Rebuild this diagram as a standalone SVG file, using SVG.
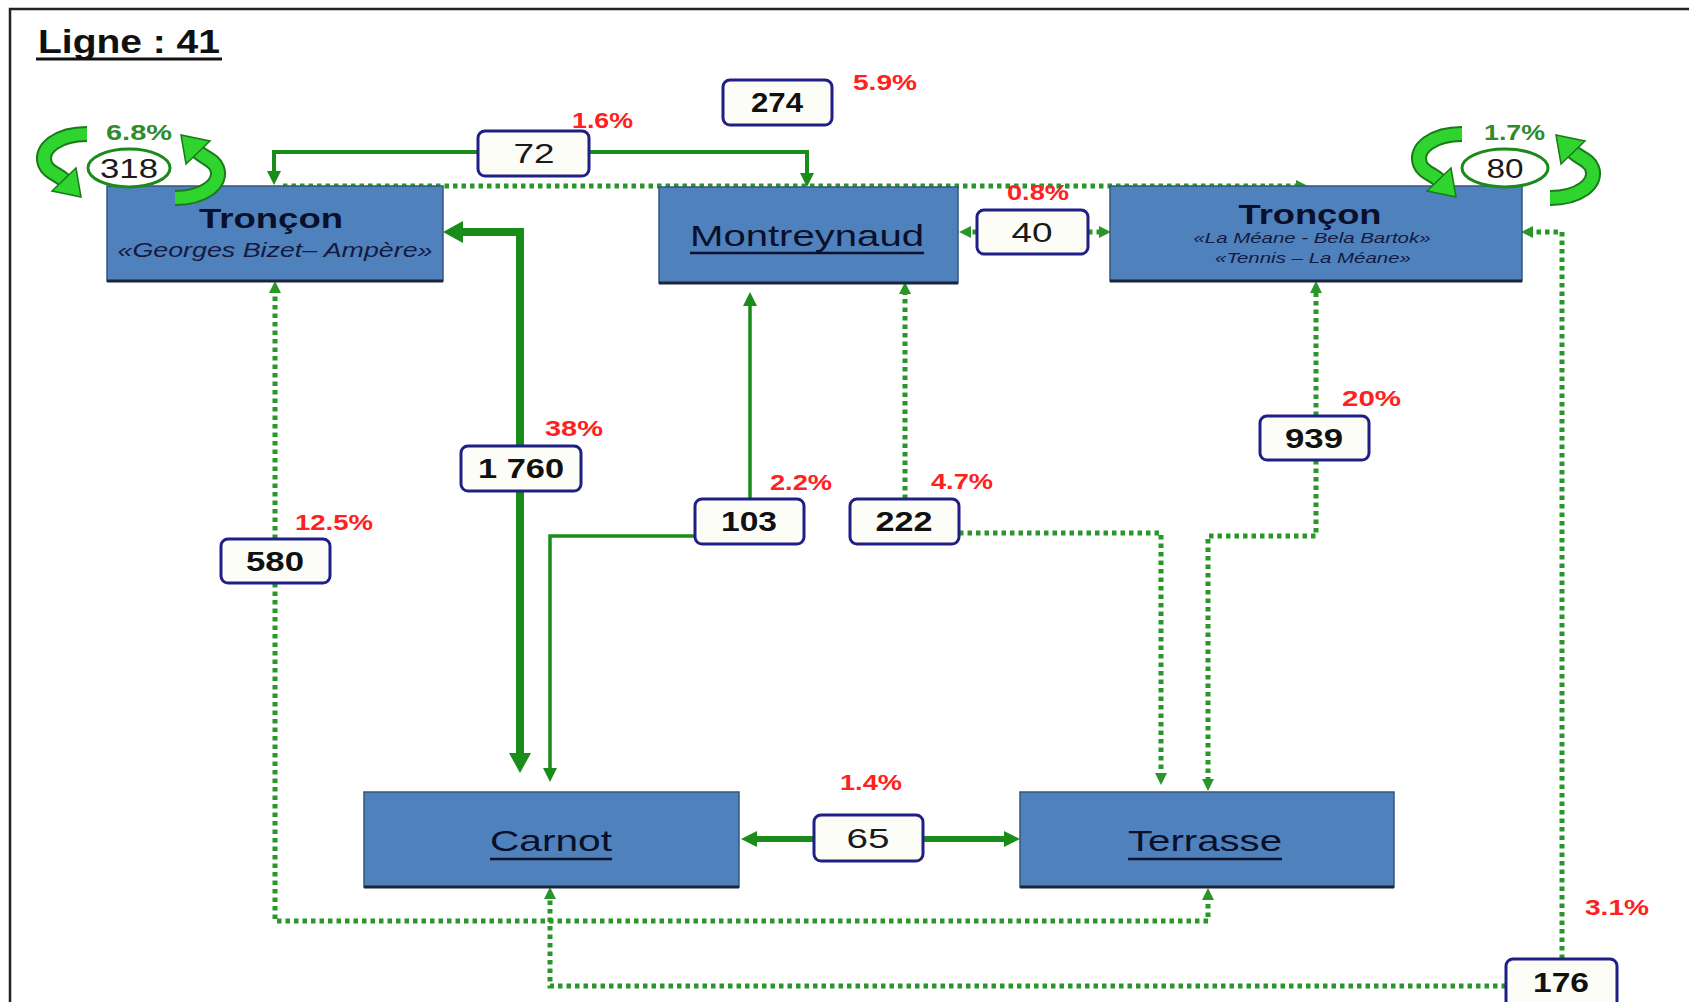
<svg xmlns="http://www.w3.org/2000/svg" xmlns:xlink="http://www.w3.org/1999/xlink" width="1689" height="1002" viewBox="0 0 1689 1002">
<style>
.box{fill:#4F81BD;stroke:#34557f;stroke-width:1.5}
.shadow{stroke:#1b2538;stroke-width:3}
.ttl{font-family:"Liberation Sans",Arial,sans-serif;font-weight:bold;fill:#0a0f2a;text-anchor:middle}
.sub{font-family:"Liberation Sans",Arial,sans-serif;font-style:italic;fill:#141a40;text-anchor:middle}
.nm{font-family:"Liberation Sans",Arial,sans-serif;font-size:30px;fill:#0a0f2a;text-anchor:middle}
.ul{stroke:#0a0f2a;stroke-width:2.5}
.lbl{fill:#fdfdf8;stroke:#1f1f85;stroke-width:3}
.nb{font-family:"Liberation Sans",Arial,sans-serif;font-weight:bold;font-size:28px;fill:#111;text-anchor:middle}
.nr{font-family:"Liberation Sans",Arial,sans-serif;font-size:28px;fill:#1a1a1a;text-anchor:middle}
.pct{font-family:"Liberation Sans",Arial,sans-serif;font-weight:bold;font-size:22px;fill:#ff2020}
.pctg{font-family:"Liberation Sans",Arial,sans-serif;font-weight:bold;font-size:22px;fill:#2e8b2e}
.sol{fill:none;stroke:#1a8c1a;stroke-width:4;stroke-linejoin:miter}
.thick{fill:none;stroke:#1a8c1a;stroke-width:8;stroke-linejoin:miter}
.mid{fill:none;stroke:#1a8c1a;stroke-width:6}
.dot{fill:none;stroke:#2a962a;stroke-width:5;stroke-dasharray:4.5 4}
.loopEll{fill:#ffffff;stroke:#1a8a1a;stroke-width:3}
</style>
<defs>
<marker id="ah" viewBox="0 0 10 10" refX="0" refY="5" markerWidth="14" markerHeight="14" markerUnits="userSpaceOnUse" orient="auto-start-reverse" preserveAspectRatio="none"><path d="M0,0L10,5L0,10z" fill="#1a8c1a"/></marker>
<marker id="ahb" viewBox="0 0 10 10" refX="0" refY="5" markerWidth="20" markerHeight="22" markerUnits="userSpaceOnUse" orient="auto-start-reverse" preserveAspectRatio="none"><path d="M0,0L10,5L0,10z" fill="#1a8c1a"/></marker>
<marker id="ahm" viewBox="0 0 10 10" refX="0" refY="5" markerWidth="16" markerHeight="16" markerUnits="userSpaceOnUse" orient="auto-start-reverse" preserveAspectRatio="none"><path d="M0,0L10,5L0,10z" fill="#1a8c1a"/></marker>
<marker id="ahs" viewBox="0 0 10 10" refX="0" refY="5" markerWidth="12" markerHeight="12" markerUnits="userSpaceOnUse" orient="auto-start-reverse" preserveAspectRatio="none"><path d="M0,0L10,5L0,10z" fill="#2a962a"/></marker>
<g id="curl">
<path d="M -44,-32 C -72,-32 -92,-18 -86,-2 C -83,6 -74,8 -67,14" fill="none" stroke="#1a7a1a" stroke-width="16"/>
<path d="M -44,-32 C -72,-32 -92,-18 -86,-2 C -83,6 -74,8 -67,14" fill="none" stroke="#2fd42f" stroke-width="12"/>
<polygon points="-79,25 -55,2 -50,31" fill="#2fd42f" stroke="#1a7a1a" stroke-width="1.5"/>
</g>
</defs>
<rect x="0" y="0" width="1689" height="1002" fill="#ffffff"/>
<path d="M10,1002 V9 H1689" fill="none" stroke="#222" stroke-width="2.5"/>
<g id="title">
<text x="38" y="53" font-family="Liberation Sans, Arial, sans-serif" font-weight="bold" font-size="33" fill="#111" textLength="182" lengthAdjust="spacingAndGlyphs">Ligne : 41</text>
<line x1="36" y1="59" x2="222" y2="59" stroke="#111" stroke-width="3"/>
</g>
<g id="connectors">
<path class="sol" d="M274,171 V152 H807 V173" marker-start="url(#ah)" marker-end="url(#ah)"/>
<path class="dot" d="M283,186 H1296" marker-end="url(#ahs)"/>
<path class="thick" d="M520,753 V232 H463" marker-start="url(#ahb)" marker-end="url(#ahb)"/>
<path class="sol" style="stroke-width:3.5" d="M750,499 V306" marker-end="url(#ah)"/>
<path class="sol" style="stroke-width:3.5" d="M695,536 H550 V768" marker-end="url(#ah)"/>
<path class="dot" d="M905,499 V294" marker-end="url(#ahs)"/>
<path class="dot" d="M959,533 H1161 V773" marker-end="url(#ahs)"/>
<path class="dot" d="M1316,416 V293" marker-end="url(#ahs)"/>
<path class="dot" d="M1316,460 V536 H1208 V779" marker-end="url(#ahs)"/>
<path class="dot" d="M977,232 H971" marker-end="url(#ahs)"/>
<path class="dot" d="M1088,232 H1099" marker-end="url(#ahs)"/>
<path class="dot" d="M275,539 V293" marker-end="url(#ahs)"/>
<path class="dot" d="M275,583 V921 H1208 V900" marker-end="url(#ahs)"/>
<path class="dot" d="M1506,986 H550 V899" marker-end="url(#ahs)"/>
<path class="dot" d="M1562,959 V232 H1533" marker-end="url(#ahs)"/>
<path class="mid" d="M814,839 H757" marker-end="url(#ahm)"/>
<path class="mid" d="M923,839 H1004" marker-end="url(#ahm)"/>
</g>
<g id="node-troncon-gba">
<rect class="box" x="107" y="186" width="336" height="95"/>
<line class="shadow" x1="107" y1="281" x2="443" y2="281"/>
<text class="ttl" x="271" y="228" font-size="27" textLength="144" lengthAdjust="spacingAndGlyphs">Tronçon</text>
<text class="sub" x="275" y="257" font-size="20" textLength="315" lengthAdjust="spacingAndGlyphs">«Georges Bizet– Ampère»</text>
</g>
<g id="node-montreynaud">
<rect class="box" x="659" y="187" width="299" height="96"/>
<line class="shadow" x1="659" y1="283" x2="958" y2="283"/>
<text class="nm" x="807" y="246" textLength="234" lengthAdjust="spacingAndGlyphs">Montreynaud</text>
<line class="ul" x1="690" y1="253" x2="924" y2="253"/>
</g>
<g id="node-troncon-lmbb">
<rect class="box" x="1110" y="186" width="412" height="95"/>
<line class="shadow" x1="1110" y1="281" x2="1522" y2="281"/>
<text class="ttl" x="1310" y="224" font-size="27" textLength="143" lengthAdjust="spacingAndGlyphs">Tronçon</text>
<text class="sub" x="1312" y="243" font-size="15" textLength="237" lengthAdjust="spacingAndGlyphs">«La Méane -  Bela Bartok»</text>
<text class="sub" x="1313" y="263" font-size="15" textLength="196" lengthAdjust="spacingAndGlyphs">«Tennis – La Méane»</text>
</g>
<g id="node-carnot">
<rect class="box" x="364" y="792" width="375" height="95"/>
<line class="shadow" x1="364" y1="887" x2="739" y2="887"/>
<text class="nm" x="551" y="851" textLength="122" lengthAdjust="spacingAndGlyphs">Carnot</text>
<line class="ul" x1="490" y1="859" x2="612" y2="859"/>
</g>
<g id="node-terrasse">
<rect class="box" x="1020" y="792" width="374" height="95"/>
<line class="shadow" x1="1020" y1="887" x2="1394" y2="887"/>
<text class="nm" x="1205" y="851" textLength="154" lengthAdjust="spacingAndGlyphs">Terrasse</text>
<line class="ul" x1="1128" y1="859" x2="1282" y2="859"/>
</g>
<g id="loop-318">
<use xlink:href="#curl" href="#curl" transform="translate(131,166)"/>
<use xlink:href="#curl" href="#curl" transform="translate(131,166) rotate(180)"/>
<ellipse class="loopEll" cx="129" cy="168" rx="41" ry="19"/>
<text class="nr" x="129" y="178" font-size="27" textLength="58" lengthAdjust="spacingAndGlyphs">318</text>
<text class="pctg" x="106" y="140" textLength="66" lengthAdjust="spacingAndGlyphs">6.8%</text>
</g>
<g id="loop-80">
<use xlink:href="#curl" href="#curl" transform="translate(1506,166)"/>
<use xlink:href="#curl" href="#curl" transform="translate(1506,166) rotate(180)"/>
<ellipse class="loopEll" cx="1505" cy="168" rx="43" ry="19"/>
<text class="nr" x="1505" y="178" font-size="27" textLength="37" lengthAdjust="spacingAndGlyphs">80</text>
<text class="pctg" x="1484" y="140" textLength="61" lengthAdjust="spacingAndGlyphs">1.7%</text>
</g>
<g id="label-72"><rect class="lbl" x="478" y="131" width="111" height="45" rx="7"/><text class="nr" x="534" y="163" textLength="41" lengthAdjust="spacingAndGlyphs">72</text></g>
<g id="label-274"><rect class="lbl" x="723" y="80" width="109" height="45" rx="7"/><text class="nb" x="777" y="112" textLength="52" lengthAdjust="spacingAndGlyphs">274</text></g>
<g id="label-40"><rect class="lbl" x="977" y="210" width="111" height="44" rx="7"/><text class="nr" x="1032" y="242" textLength="41" lengthAdjust="spacingAndGlyphs">40</text></g>
<g id="label-1760"><rect class="lbl" x="461" y="446" width="120" height="45" rx="7"/><text class="nb" x="521" y="478" textLength="86" lengthAdjust="spacingAndGlyphs">1 760</text></g>
<g id="label-580"><rect class="lbl" x="221" y="539" width="109" height="44" rx="7"/><text class="nb" x="275" y="571" textLength="58" lengthAdjust="spacingAndGlyphs">580</text></g>
<g id="label-103"><rect class="lbl" x="695" y="499" width="109" height="45" rx="7"/><text class="nb" x="749" y="531" textLength="56" lengthAdjust="spacingAndGlyphs">103</text></g>
<g id="label-222"><rect class="lbl" x="850" y="499" width="109" height="45" rx="7"/><text class="nb" x="904" y="531" textLength="57" lengthAdjust="spacingAndGlyphs">222</text></g>
<g id="label-939"><rect class="lbl" x="1260" y="416" width="109" height="44" rx="7"/><text class="nb" x="1314" y="448" textLength="58" lengthAdjust="spacingAndGlyphs">939</text></g>
<g id="label-65"><rect class="lbl" x="814" y="815" width="109" height="46" rx="7"/><text class="nr" x="868" y="848" textLength="43" lengthAdjust="spacingAndGlyphs">65</text></g>
<g id="label-176"><rect class="lbl" x="1506" y="959" width="111" height="50" rx="7"/><text class="nb" x="1561" y="992" textLength="56" lengthAdjust="spacingAndGlyphs">176</text></g>
<g id="percentages">
<text class="pct" x="572" y="128" textLength="61" lengthAdjust="spacingAndGlyphs">1.6%</text>
<text class="pct" x="853" y="90" textLength="64" lengthAdjust="spacingAndGlyphs">5.9%</text>
<text class="pct" x="1007" y="200" textLength="62" lengthAdjust="spacingAndGlyphs">0.8%</text>
<text class="pct" x="545" y="436" textLength="58" lengthAdjust="spacingAndGlyphs">38%</text>
<text class="pct" x="295" y="530" textLength="78" lengthAdjust="spacingAndGlyphs">12.5%</text>
<text class="pct" x="770" y="490" textLength="62" lengthAdjust="spacingAndGlyphs">2.2%</text>
<text class="pct" x="931" y="489" textLength="62" lengthAdjust="spacingAndGlyphs">4.7%</text>
<text class="pct" x="1342" y="406" textLength="59" lengthAdjust="spacingAndGlyphs">20%</text>
<text class="pct" x="840" y="790" textLength="62" lengthAdjust="spacingAndGlyphs">1.4%</text>
<text class="pct" x="1585" y="915" textLength="64" lengthAdjust="spacingAndGlyphs">3.1%</text>
</g>
</svg>
